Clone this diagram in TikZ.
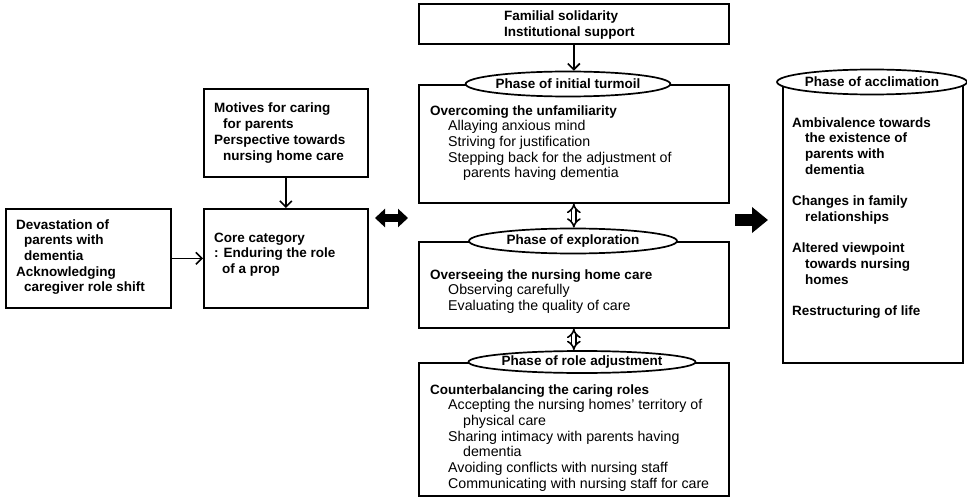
\documentclass[tikz,border=0pt]{standalone}
\usepackage{fontspec}
\setmainfont{Liberation Sans}
\usetikzlibrary{arrows.meta,shapes.geometric}
\newcommand\ftb{\fontsize{13.5}{15.7}\selectfont\bfseries}
\newcommand\ftr{\fontsize{14.2}{15.7}\selectfont\mdseries}
\begin{document}
\begin{tikzpicture}[x=1pt,y=-1pt,
  box/.style={draw, line width=1.7pt, anchor=north west, inner sep=0pt},
  lbl/.style={draw, line width=1.7pt, fill=white, ellipse, inner sep=0pt, font=\ftb},
  txt/.style={anchor=base west, inner sep=0pt, align=left, font=\ftr},
  conn/.style={line width=1.6pt, -{Straight Barb[length=6pt,width=12pt,line width=1.6pt]}},
  dbl/.style={double, double distance=3pt, line width=1.6pt, {Implies[]}-{Implies[]}},
  fat/.style={line width=8pt, {Triangle[length=10pt,width=18pt]}-{Triangle[length=10pt,width=18pt]}},
  fatr/.style={line width=12pt, -{Triangle[length=16pt,width=25pt]}}]
\useasboundingbox (0,0) rectangle (967,500);
% boxes
\node[box, minimum width=310pt, minimum height=40pt] (top) at (418,3) {};
\node[box, minimum width=310pt, minimum height=118pt] (p1) at (418,84) {};
\node[box, minimum width=310pt, minimum height=86pt] (p2) at (418,241) {};
\node[box, minimum width=310pt, minimum height=133pt] (p3) at (418,362) {};
\node[box, minimum width=165pt, minimum height=99pt] (dev) at (5,208) {};
\node[box, minimum width=164pt, minimum height=99pt] (core) at (203,208) {};
\node[box, minimum width=164pt, minimum height=88pt] (mot) at (203,88) {};
\node[box, minimum width=180pt, minimum height=280pt] (acc) at (782,82) {};
% ellipse labels
\node[lbl, minimum width=199pt, minimum height=25pt] (e1) at (568,84) {Phase of initial turmoil};
\node[lbl, minimum width=208pt, minimum height=25pt] (e2) at (573,241) {Phase of exploration};
\node[lbl, minimum width=205pt, minimum height=22pt] (e3) at (582,362) {Phase of role adjustment};
\node[lbl, minimum width=182pt, minimum height=25pt] (e4) at (872,82) {Phase of acclimation};
% texts (anchored at the baseline of their last line)
\node[txt] (ttop) at (504,36.5) {{\ftb Familial solidarity}\\{\ftb Institutional support}};
\node[txt, font=\ftb] (tmot) at (214,160.1) {Motives for caring\\\hspace*{9pt}for parents\\Perspective towards\\\hspace*{9pt}nursing home care};
\node[txt, font=\ftb] (tdev) at (16,291.8) {Devastation of\\\hspace*{8pt}parents with\\\hspace*{8pt}dementia\\Acknowledging\\\hspace*{8pt}caregiver role shift};
\node[txt, font=\ftb] (tcore) at (214,273.4) {Core category\\: Enduring the role\\\hspace*{8pt}of a prop};
\node[txt] (tp1) at (430,177.8) {{\ftb Overcoming the unfamiliarity}\\
  \hspace*{18pt}Allaying anxious mind\\
  \hspace*{18pt}Striving for justification\\
  \hspace*{18pt}Stepping back for the adjustment of\\
  \hspace*{33pt}parents having dementia};
\node[txt] (tp2) at (430,310.4) {{\ftb Overseeing the nursing home care}\\
  \hspace*{18pt}Observing carefully\\
  \hspace*{18pt}Evaluating the quality of care};
\node[txt] (tp3) at (430,488.2) {{\ftb Counterbalancing the caring roles}\\
  \hspace*{18pt}Accepting the nursing homes' territory of\\
  \hspace*{33pt}physical care\\
  \hspace*{18pt}Sharing intimacy with parents having\\
  \hspace*{33pt}dementia\\
  \hspace*{18pt}Avoiding conflicts with nursing staff\\
  \hspace*{18pt}Communicating with nursing staff for care};
\node[txt, font=\ftb] (tacc) at (792,315.4) {Ambivalence towards\\\hspace*{13pt}the existence of\\\hspace*{13pt}parents with\\\hspace*{13pt}dementia\\[15.7pt]
  Changes in family\\\hspace*{13pt}relationships\\[15.7pt]
  Altered viewpoint\\\hspace*{13pt}towards nursing\\\hspace*{13pt}homes\\[15.7pt]
  Restructuring of life};
% connectors
\draw[conn] (top.south) -- (top.south |- e1.north);
\draw[conn] (mot.south) -- (core.north);
\draw[conn] (dev.east) -- (core.west);
\draw[dbl] (p1.south) -- (p1.south |- e2.north);
\draw[dbl] (p2.south) -- (p2.south |- e3.north);
\coordinate (ba1) at (375,218);
\coordinate (ba2) at (408,218);
\draw[fat] (ba1) -- (ba2);
\coordinate (ra1) at (735,220);
\coordinate (ra2) at (768,220);
\draw[fatr] (ra1) -- (ra2);
\end{tikzpicture}
\end{document}
